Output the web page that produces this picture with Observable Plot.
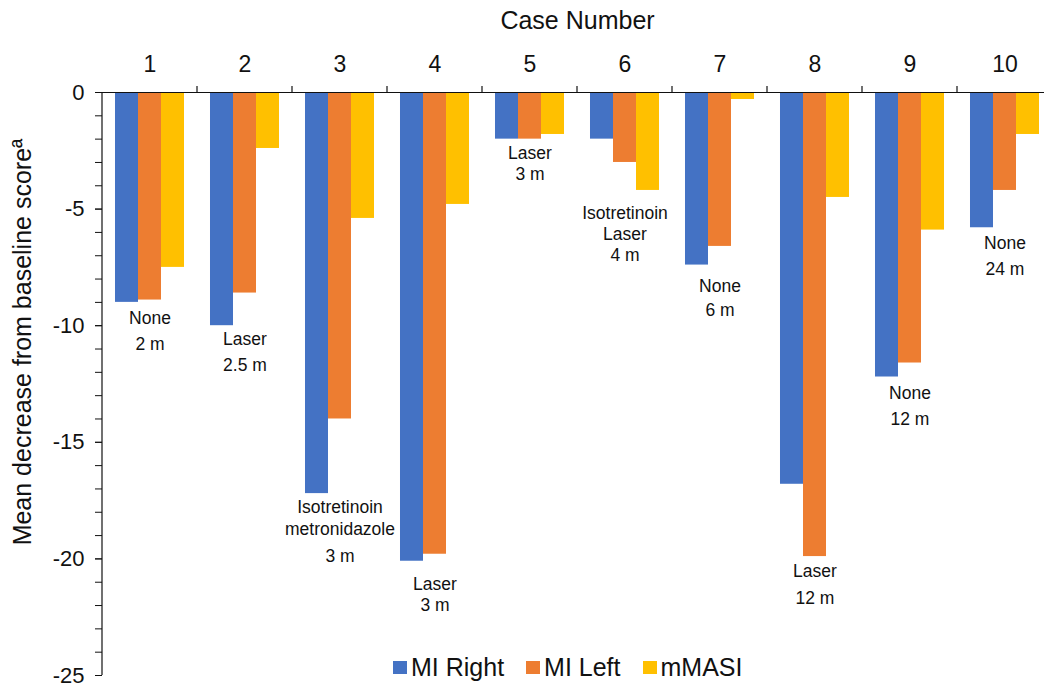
<!DOCTYPE html>
<html><head><meta charset="utf-8">
<script src="https://cdn.jsdelivr.net/npm/d3@7"></script>
<script src="https://cdn.jsdelivr.net/npm/@observablehq/plot@0.6"></script>
<style>
html,body{margin:0;padding:0;background:#fff;}
#wrap{position:relative;width:1044px;height:688px;overflow:hidden;font-family:"Liberation Sans",Arial,sans-serif;color:#111;}
#legend{position:absolute;left:393px;top:651px;}
#legend svg{margin-right:4px !important;}
#legend span{margin-right:22px !important;}
</style></head><body><div id="wrap"></div>
<script>
const cases = [1, 2, 3, 4, 5, 6, 7, 8, 9, 10];
const seriesNames = ["MI Right", "MI Left", "mMASI"];
const seriesColors = ["#4472C4", "#ED7D31", "#FFC000"];
const miRight = [-9.0, -10.0, -17.2, -20.1, -2.0, -2.0, -7.4, -16.8, -12.2, -5.8];
const miLeft  = [-8.9, -8.6, -14.0, -19.8, -2.0, -3.0, -6.6, -19.9, -11.6, -4.2];
const mMASI   = [-7.5, -2.4, -5.4, -4.8, -1.8, -4.2, -0.3, -4.5, -5.9, -1.8];
const yMajorTicks = [0, -5, -10, -15, -20, -25];
const yMinorTicks = d3.range(-25, 1, 1);
const xTitle = "Case Number";
const yTitle = "Mean decrease from baseline scoreª";
const yTitleAt = -10.7;
const noteCase = [1, 1, 2, 2, 3, 3, 3, 4, 4, 5, 5, 6, 6, 6, 7, 7, 8, 8, 9, 9, 10, 10];
const noteText = ["None", "2 m", "Laser", "2.5 m", "Isotretinoin", "metronidazole", "3 m",
  "Laser", "3 m", "Laser", "3 m", "Isotretinoin", "Laser", "4 m", "None", "6 m",
  "Laser", "12 m", "None", "12 m", "None", "24 m"];
const noteY = [-9.7, -10.8, -10.6, -11.7, -17.8, -18.75, -19.9, -21.1, -22.0, -2.6, -3.5,
  -5.2, -6.1, -7.0, -8.3, -9.35, -20.55, -21.7, -12.9, -14.0, -6.45, -7.6];

const seriesValues = [miRight, miLeft, mMASI];
const bars = cases.flatMap((c, i) => seriesNames.map((s, j) => ({case: c, series: s, value: seriesValues[j][i]})));
const notes = noteCase.map((c, i) => ({case: c, text: noteText[i], y: noteY[i]}));

const font = '"Liberation Sans", Arial, sans-serif';
const chart = Plot.plot({
  width: 1044, height: 688,
  marginLeft: 102, marginRight: -8, marginTop: 92, marginBottom: 13,
  style: {fontFamily: font, fontSize: "22px", color: "#111", background: "white", overflow: "visible"},
  fx: {domain: cases, padding: 0, round: false},
  x: {domain: seriesNames, paddingInner: 0, paddingOuter: 0.565, round: false, axis: null},
  y: {domain: [-25, 0], axis: null},
  color: {domain: seriesNames, range: seriesColors},
  marks: [
    Plot.barY(bars, {fx: "case", x: "series", y: "value", fill: "series"}),
    Plot.ruleY([0], {stroke: "#111", strokeWidth: 1.2}),
    Plot.axisFx({anchor: "top", tickSize: 0, tickPadding: 21, fontSize: 23,
      label: xTitle, labelAnchor: "center", labelOffset: 81}),
    Plot.axisY({ticks: yMinorTicks, tickSize: 7, tickFormat: () => "", label: null, stroke: "#111"}),
    Plot.axisY({ticks: yMajorTicks, tickSize: 7, tickPadding: 11, fontSize: 22,
      tickFormat: d => String(d), label: null, stroke: "#111"}),
    Plot.text([{t: yTitle, y: yTitleAt}], {text: "t", y: "y", frameAnchor: "left", textAnchor: "middle",
      dx: -80, rotate: -90, fontSize: 25, facetAnchor: "left", fill: "#111"}),
    Plot.text(notes, {fx: "case", y: "y", text: "text", fontSize: 17.5, fill: "#111"})
  ]
});
const wrap = document.getElementById("wrap");
wrap.append(chart);

const svg = d3.select(chart);
svg.selectAll('g[aria-label="fx-axis label"]').attr("font-size", 25);

const fxS = chart.scale("fx"), yS = chart.scale("y");
const g = svg.append("g").attr("stroke", "#111").attr("stroke-width", 1.2);
const x0 = fxS.apply(cases[0]);
g.append("line").attr("x1", x0).attr("x2", x0).attr("y1", yS.apply(0)).attr("y2", yS.apply(-25));
cases.forEach(c => {
  const xe = fxS.apply(c) + fxS.bandwidth;
  g.append("line").attr("x1", xe).attr("x2", xe).attr("y1", yS.apply(0) - 6).attr("y2", yS.apply(0));
});

const legend = Plot.legend({color: {domain: seriesNames, range: seriesColors}, legend: "swatches",
  swatchWidth: 14, swatchHeight: 13, style: {fontSize: "25px", fontFamily: font, color: "#111"}});
legend.id = "legend";
wrap.append(legend);
</script></body></html>
